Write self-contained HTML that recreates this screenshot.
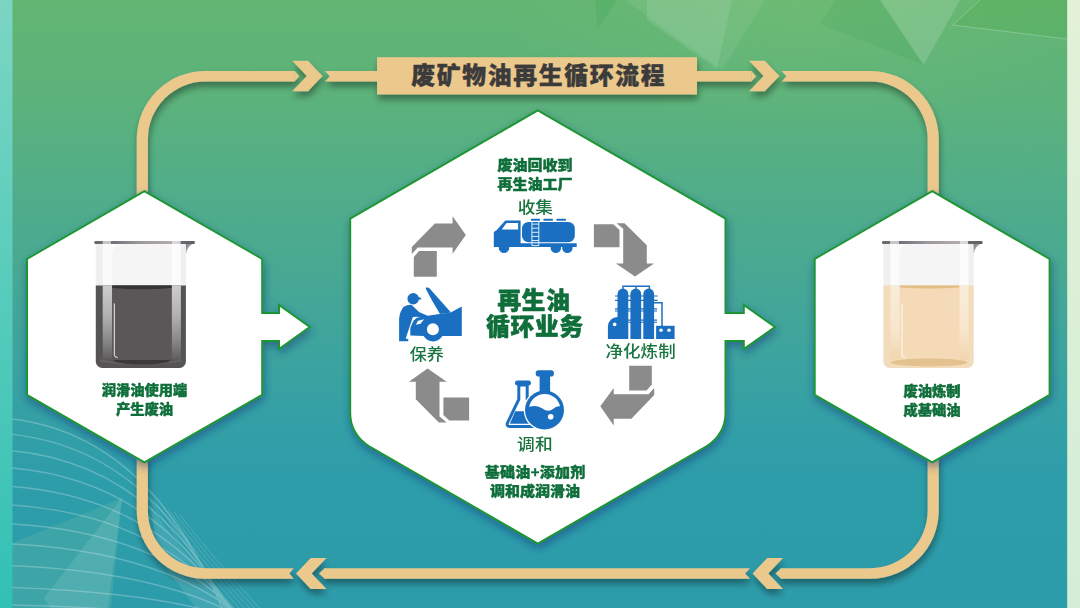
<!DOCTYPE html>
<html lang="zh-CN">
<head>
<meta charset="utf-8">
<title>废矿物油再生循环流程</title>
<style>
html,body{margin:0;padding:0;width:1080px;height:608px;overflow:hidden;background:#3fa39d}
svg{display:block;position:absolute;left:0;top:0}
text{font-family:"Liberation Sans","Noto Sans CJK SC",sans-serif}
.b{font-weight:900;fill:#0f6e3a;stroke:#0f6e3a;stroke-width:0.45px;stroke-linejoin:round}
.r{font-weight:500;fill:#1a7541}
.h{font-weight:900;fill:#0f6e3a;stroke:#0f6e3a;stroke-width:0.6px;stroke-linejoin:round;letter-spacing:0.8px}
</style>
</head>
<body>
<svg width="1080" height="608" viewBox="0 0 1080 608">
<defs>
  <linearGradient id="bg" x1="0" y1="0" x2="0" y2="1">
    <stop offset="0" stop-color="#62b572"/>
    <stop offset="0.165" stop-color="#5cb27b"/>
    <stop offset="0.296" stop-color="#52ae88"/>
    <stop offset="0.411" stop-color="#4aaa90"/>
    <stop offset="0.493" stop-color="#44a697"/>
    <stop offset="0.576" stop-color="#3da49e"/>
    <stop offset="0.69" stop-color="#34a0a6"/>
    <stop offset="0.79" stop-color="#2d9daa"/>
    <stop offset="1" stop-color="#2d9caa"/>
  </linearGradient>
  <linearGradient id="lstrip" x1="0" y1="0" x2="0" y2="1">
    <stop offset="0" stop-color="#7cd5c3"/>
    <stop offset="0.5" stop-color="#56cbbb"/>
    <stop offset="1" stop-color="#32c0b5"/>
  </linearGradient>
  <linearGradient id="rstrip" x1="0" y1="0" x2="0" y2="1">
    <stop offset="0" stop-color="#e2f1d8"/>
    <stop offset="1" stop-color="#d4eed6"/>
  </linearGradient>
  <filter id="sh" x="-20%" y="-20%" width="140%" height="150%">
    <feGaussianBlur in="SourceAlpha" stdDeviation="3.5"/>
    <feOffset dx="0.5" dy="4.5" result="o"/>
    <feComponentTransfer><feFuncA type="linear" slope="0.38"/></feComponentTransfer>
    <feMerge><feMergeNode/><feMergeNode in="SourceGraphic"/></feMerge>
  </filter>
  <filter id="shx" x="-20%" y="-20%" width="140%" height="140%">
    <feGaussianBlur in="SourceAlpha" stdDeviation="4.5" result="b"/>
    <feOffset in="b" dx="0.5" dy="4" result="o"/>
    <feFlood flood-color="#16307a" flood-opacity="0.5"/>
    <feComposite in2="o" operator="in" result="s"/>
    <feMerge><feMergeNode in="s"/><feMergeNode in="SourceGraphic"/></feMerge>
  </filter>

  <linearGradient id="rim" x1="0" y1="0" x2="1" y2="0">
    <stop offset="0" stop-color="#66666b"/>
    <stop offset="0.08" stop-color="#6e6e73"/>
    <stop offset="0.085" stop-color="#c9c9cb"/>
    <stop offset="0.165" stop-color="#c4c4c6"/>
    <stop offset="0.17" stop-color="#6f7078"/>
    <stop offset="0.45" stop-color="#9c989c"/>
    <stop offset="0.77" stop-color="#b4acae"/>
    <stop offset="0.775" stop-color="#dcdcdc"/>
    <stop offset="0.855" stop-color="#d4d4d4"/>
    <stop offset="0.86" stop-color="#6a6a6f"/>
    <stop offset="1" stop-color="#5e5e63"/>
  </linearGradient>
  <linearGradient id="bandD" x1="0" y1="0" x2="0" y2="1">
    <stop offset="0" stop-color="#cdcdcf"/>
    <stop offset="0.4" stop-color="#b2b2b4"/>
    <stop offset="0.75" stop-color="#878688"/>
    <stop offset="1" stop-color="#5f5d5e"/>
  </linearGradient>
  <linearGradient id="bandL" x1="0" y1="0" x2="0" y2="1">
    <stop offset="0" stop-color="#f9ecd9"/>
    <stop offset="0.6" stop-color="#f8e6cd"/>
    <stop offset="1" stop-color="#f1d6ae"/>
  </linearGradient>
  <linearGradient id="spout" x1="0" y1="0" x2="1" y2="1">
    <stop offset="0" stop-color="#77787d"/>
    <stop offset="0.6" stop-color="#c5c5c8"/>
    <stop offset="1" stop-color="#f2f2f2"/>
  </linearGradient>
  <g id="bkglass">
    <path d="M95.8 243.5 H185.9 V361.5 a6.5 6.5 0 0 1 -6.5 6.5 H102.3 a6.5 6.5 0 0 1 -6.5 -6.5 Z" fill="#efefef"/>
    <rect x="102.7" y="243.5" width="9.3" height="42" fill="#fbfbfb"/>
    <rect x="112" y="243.5" width="59.8" height="42" fill="#f5f5f5"/>
    <rect x="171.8" y="243.5" width="9" height="42" fill="#fcfcfc"/>
    <path d="M112 255 q0 -8 6 -11.5 h-6 Z" fill="#fdfdfd"/>
  </g>
  <g id="bkrim">
    <path d="M185.9 243.5 H194.6 q-6.5 1.2 -8.7 10.5 Z" fill="url(#spout)"/>
    <rect x="94.3" y="241" width="100.6" height="2.9" rx="1.2" fill="url(#rim)"/>
  </g>
</defs>

<!-- background -->
<rect x="0" y="0" width="1080" height="608" fill="url(#bg)"/>
<g id="deco">
  <defs>
    <radialGradient id="glow" cx="0.5" cy="0.5" r="0.5">
      <stop offset="0" stop-color="#b4e07a" stop-opacity="0.13"/>
      <stop offset="1" stop-color="#b4e07a" stop-opacity="0"/>
    </radialGradient>
  </defs>
  <ellipse cx="800" cy="10" rx="300" ry="120" fill="url(#glow)"/>
  <polygon points="595,0 617.5,0 597.5,29" fill="#2f9a4a" opacity="0.18"/>
  <polygon points="625,0 765,0 722,70" fill="#ffffff" opacity="0.07"/>
  <polygon points="647,0 732,0 717,69 647,20" fill="#ffffff" opacity="0.10"/>
  <polygon points="820,24 835,0 880,0 923.7,65" fill="#1f8a3c" opacity="0.10"/>
  <polygon points="880,0 960,0 923.7,65" fill="#ffffff" opacity="0.15"/>
  <polygon points="952.5,25 980,0 1067,0 1067,39" fill="#4aa83e" opacity="0.22"/>
  <path d="M980 0 L952.5 25 L1067 39" fill="none" stroke="#ffffff" stroke-opacity="0.30" stroke-width="0.8"/>
  <g fill="none" stroke="#ffffff" stroke-opacity="0.035" stroke-width="0.8">
    <path d="M940 80 L1067 250 M960 60 L1067 200 M990 50 L1067 150 M900 120 L1067 330 M1067 60 L920 200 M1067 110 L940 260 M1067 170 L960 300 M1067 230 L990 330"/>
  </g>
  <!-- bottom-left -->
  <polygon points="12.5,543 122,498 111,608 12.5,608" fill="#8fd0a0" opacity="0.17"/>
  <polygon points="44,598 122,498 108,608 50,608" fill="#ffffff" opacity="0.10"/>
  <polygon points="150,505 175,540 232,608 196,608 160,560" fill="#ffffff" opacity="0.10"/>
  <g fill="none" stroke="#ffffff" stroke-opacity="0.24" stroke-width="1.4">
    <path d="M12 419 Q150.0 435.0 224.0 612.0 M12 434.4 Q152.5 449.2 227.5 613.5 M12 450.7 Q155.0 464.3 231.0 615.0 M12 468 Q157.5 480.4 234.5 616.5 M12 486.5 Q160.0 497.7 238.0 618.0 M12 505 Q162.5 515.0 241.5 619.5 M12 524 Q165.0 532.8 245.0 621.0 M12 544 Q167.5 551.6 248.5 622.5 M12 565.7 Q170.0 572.1 252.0 624.0 M12 587.5 Q172.5 592.7 255.5 625.5 M12 605 Q175.0 609.0 259.0 627.0"/>
  </g>
  <g fill="none" stroke="#ffffff" stroke-opacity="0.13" stroke-width="1.1">
    <path d="M150 500 Q190 560 238 612 M156 503 Q195 560 243 612 M162 506 Q200 560 248 612 M168 509 Q205 560 253 612 M174 512 Q210 560 258 612 M180 515 Q215 560 263 612"/>
  </g>
</g>

<!-- side strips -->
<rect x="0" y="0" width="12.5" height="608" fill="url(#lstrip)"/>
<rect x="1067.2" y="0" width="13" height="608" fill="url(#rstrip)"/>

<!-- loop -->
<g id="loop" filter="url(#sh)" fill="#ebc88c" stroke="none">
  <g fill="none" stroke="#ebc88c">
    
    <path stroke-width="10.6" d="M205 76.2 H294.8"/>
    <path stroke-width="10.6" d="M333 76.2 H380"/>
    <path stroke-width="10.6" d="M695 76.2 H751.5"/>
    <path stroke-width="10.6" d="M790 76.2 H870.2"/>
    
    
    <path stroke-width="10.6" d="M870.5 573.5 H780.6"/>
    <path stroke-width="10.6" d="M742 573.5 H324"/>
    <path stroke-width="10.6" d="M286 573.5 H205"/>
    
  </g>
  <path d="M136.7 200 V139.2 A68.6 68.3 0 0 1 205.3 70.9 H206 V81.5 H205.3 A57.4 57.7 0 0 0 147.9 139.2 V200 Z"/>
  <path d="M869.5 70.9 H870.2 A68.6 68.3 0 0 1 938.8 139.2 V200 H927.6 V139.2 A57.4 57.7 0 0 0 870.2 81.5 H869.5 Z"/>
  <path d="M938.8 455 V510.5 A68.6 68.3 0 0 1 870.2 578.8 H869.5 V568.2 H870.2 A57.4 57.7 0 0 0 927.6 510.5 V455 Z"/>
  <path d="M136.7 455 V510.5 A68.6 68.3 0 0 0 205.3 578.8 H206 V568.2 H205.3 A57.4 57.7 0 0 1 147.9 510.5 V455 Z"/>
  <!-- pointed tips -->
  <polygon points="294.6,70.9 299.4,76.2 294.6,81.5"/>
  <polygon points="751.3,70.9 756.1,76.2 751.3,81.5"/>
  <polygon points="781.2,568.2 775.5,573.5 781.2,578.8"/>
  <polygon points="324.7,568.2 319,573.5 324.7,578.8"/>
  <!-- notched tails -->
  <polygon points="325,70.9 333.5,70.9 333.5,81.5 325,81.5 329.7,76.2"/>
  <polygon points="781.7,70.9 790.5,70.9 790.5,81.5 781.7,81.5 786.4,76.2"/>
  <polygon points="750.1,568.2 741.5,568.2 741.5,578.8 750.1,578.8 745.1,573.5"/>
  <polygon points="293.7,568.2 285.5,568.2 285.5,578.8 293.7,578.8 289.4,573.5"/>
  <!-- chevrons -->
  <polygon points="292.2,60.8 308,60.8 322.6,76.1 308,91.3 292.2,91.3 306.8,76.1"/>
  <polygon points="749,60.8 764.8,60.8 779.4,76.1 764.8,91.3 749,91.3 763.6,76.1"/>
  <polygon points="783,558 767.2,558 752.6,573.5 767.2,589 783,589 768.4,573.5"/>
  <polygon points="326.5,558 310.7,558 296,573.5 310.7,589 326.5,589 311.7,573.5"/>
  <rect x="377" y="57.2" width="320" height="37.3"/>
</g>
<text x="538.7" y="84.2" text-anchor="middle" font-size="23.8" font-weight="900" fill="#3b3b3b" stroke="#3b3b3b" stroke-width="0.4" letter-spacing="1.7">废矿物油再生循环流程</text>

<!-- hexagons -->
<g id="hex" filter="url(#shx)" fill="#ffffff" stroke="#1f9632" stroke-width="2" stroke-linejoin="miter">
  <polygon points="144.4,191.2 262.2,259 262.2,313.1 279,313.1 279,305 309.8,327 279,349 279,341 262.2,341 262.2,394.8 144.4,462.4 27,394.8 27,259"/>
  <path d="M537.8 110.4 L725.5 218.7 V313.1 H743.8 V305 L775 327 L743.8 349 V341 H725.5 V413.4 A38 38 0 0 1 706.5 446.25 L537.8 543.6 L369.2 446.25 A38 38 0 0 1 350.2 413.4 V218.7 Z"/>
  <polygon points="932.2,191.2 1049.6,259 1049.6,394.8 932.2,462.4 814.7,394.8 814.7,259"/>
</g>

<g id="beakers">
  <g>
    <use href="#bkglass"/>
    <path d="M95.8 285.5 H185.9 V361.5 a6.5 6.5 0 0 1 -6.5 6.5 H102.3 a6.5 6.5 0 0 1 -6.5 -6.5 Z" fill="#565354"/>
    <rect x="102.7" y="285.5" width="9.5" height="74" fill="url(#bandD)"/>
    <rect x="171.6" y="285.5" width="9.3" height="74" fill="url(#bandD)"/>
    <path d="M100 359 Q141 369 181.5 359 L181.5 362 Q141 367.5 100 362 Z" fill="#6f6e6f" opacity="0.55"/>
    <ellipse cx="141.9" cy="360.5" rx="28" ry="4" fill="#3b393a"/>
    <path d="M112.2 285.5 H171.6 V356 a4 4 0 0 1 -4 4 H116.2 a4 4 0 0 1 -4 -4 Z" fill="#5a5758"/>
    <path d="M112.2 285.5 H171.6 V288 Q142 290.5 112.2 288 Z" fill="#353334"/>
    <path d="M114.3 303.8 V354.8 q0 2.6 3 2.7" fill="none" stroke="#ffffff" stroke-width="0.9" stroke-linecap="round"/>
    <use href="#bkrim"/>
  </g>
  <g transform="translate(787.7,0)">
    <use href="#bkglass"/>
    <path d="M95.8 285.5 H185.9 V361.5 a6.5 6.5 0 0 1 -6.5 6.5 H102.3 a6.5 6.5 0 0 1 -6.5 -6.5 Z" fill="#f3dcbb"/>
    <rect x="102.7" y="285.5" width="9.5" height="74" fill="url(#bandL)"/>
    <rect x="171.6" y="285.5" width="9.3" height="74" fill="url(#bandL)"/>
    <path d="M112.2 285.5 H171.6 V356 a4 4 0 0 1 -4 4 H116.2 a4 4 0 0 1 -4 -4 Z" fill="#f4dab6"/>
    <ellipse cx="141.5" cy="362.4" rx="38.5" ry="3.9" fill="#e4c28f"/>
    <path d="M112.2 285.5 H171.6 V287.6 Q142 289.6 112.2 287.6 Z" fill="#e3bd85"/>
    <path d="M114.3 303.8 V354.8 q0 2.6 3 2.7" fill="none" stroke="#ffffff" stroke-width="0.9" stroke-linecap="round"/>
    <use href="#bkrim"/>
  </g>
</g>
<g id="icons">
  <!-- grey cycle arrows -->
  <g fill="#8b8b8b">
    <polygon points="411.8,253.9 411.8,247.1 434.9,223.4 452.6,223.4 452.6,216.2 465.8,235 452.6,253.7 452.6,247.4 417.8,247.4"/>
    <polygon points="413.8,257 419.1,251.1 436.8,251.1 436.8,276.7 413.8,276.7"/>
    <polygon points="593.9,224.2 613.3,224.2 619.5,230.1 619.5,247.2 593.9,247.2"/>
    <polygon points="616.6,223.2 624.5,223.2 646.8,245.3 646.8,263.4 654.1,263.4 635,276.6 615.9,263.4 623.2,263.4 623.2,228.8"/>
    <polygon points="629.2,365.8 651.8,365.8 651.8,384.6 646.6,390.5 629.2,390.5"/>
    <polygon points="654.2,387.9 654.2,395.1 631.4,418.8 613.7,418.8 613.7,425.4 600.3,406.3 613.7,387.9 613.7,394.2 648.6,394.2"/>
    <polygon points="427.6,368.6 446.7,381.7 439.5,381.7 439.5,416.6 446.7,422.5 438.8,422.5 415.8,399.2 415.8,381.7 408.9,381.7"/>
    <polygon points="443.4,397.5 469.1,397.5 469.1,420.5 449.3,420.5 443.4,415"/>
  </g>

  <!-- tanker truck -->
  <g fill="#1b6fc0">
    <path d="M498.8 245.5 h10.4 v2.4 a5.2 5.2 0 0 1 -10.4 0 Z"/>
    <path d="M550.6 245.5 h10.4 v2.4 a5.2 5.2 0 0 1 -10.4 0 Z"/>
    <path d="M562.2 245.5 h10.4 v2.4 a5.2 5.2 0 0 1 -10.4 0 Z"/>
    <path d="M493.8 247 V233 q0 -1.2 1 -1.8 L496.3 230.6 L504.6 221.2 q0.6 -0.6 1.4 -0.6 H520.6 V243.3 H576.7 V247 Z"/>
    <polygon points="506.5,223 518.1,223 518.1,229.6 501.7,229.6" fill="#ffffff"/>
    <rect x="522" y="221.9" width="52.8" height="20.3" rx="6.5"/>
    <rect x="530.8" y="218.8" width="9.3" height="2" rx="0.8"/>
    <rect x="543.3" y="218.8" width="9.7" height="2" rx="0.8"/>
    <rect x="556.3" y="218.8" width="9.7" height="2" rx="0.8"/>
    <g fill="none" stroke="#dfeaf7" stroke-width="1">
      <path d="M531.9 222 V245.6 H538.8 V222"/>
      <path d="M531.9 224.1 H538.8 M531.9 228.2 H538.8 M531.9 232.3 H538.8 M531.9 236.4 H538.8 M531.9 240.5 H538.8"/>
    </g>
  </g>

  <!-- car maintenance -->
  <g fill="#1b6fc0">
    <circle cx="413.2" cy="298.8" r="5.75"/>
    <path d="M417 296.8 L420.8 297.8 q0.9 0.3 0.5 1 q-0.3 0.7 -1.2 0.7 L417.5 299.8 Z"/>
    <path d="M403.7 306.7 Q407.5 304.6 411.8 304.9 L419 312.1 L427.1 315.4 L425.6 317.4 L415.9 316.8 L412.9 316.9 L405.7 338.6 L408.3 339.3 V341.2 H399.1 V318.7 Q399.6 311.6 403.7 306.7 Z"/>
    <path d="M425.6 288.4 L426.6 287.3 L429.2 288 L451 312.4 L440 314 Q432 301 425.6 288.4 Z"/>
    <path d="M410.3 335.6 V327.9 L413.4 320.8 L416.9 317.7 L427.7 315.7 L443 313.6 L450.6 312.6 L461.8 306.5 V336.1 H442.4 A11 11 0 0 1 423.6 336.1 Z"/>
    <circle cx="432.9" cy="329.2" r="6" fill="#ffffff"/>
    <polygon points="415.9,324.8 418,320.8 424.1,319.2 420.5,323.8" fill="#ffffff"/>
  </g>

  <!-- refinery -->
  <g fill="#1b6fc0">
    <path d="M617.5 339 V294 a5.4 5.4 0 0 1 10.8 0 V339 Z"/>
    <path d="M630.4 339 V294 a5.4 5.4 0 0 1 10.8 0 V339 Z"/>
    <path d="M643.3 339 V294 a5.4 5.4 0 0 1 10.8 0 V339 Z"/>
    <path d="M607.9 339 V326.5 a9.6 9.6 0 0 1 9.6 -9.6 H618 V339 Z"/>
    <rect x="656.1" y="325.8" width="18.5" height="13.2"/>
    <g fill="none" stroke="#1b6fc0">
      <path stroke-width="1.5" d="M623 290.5 V286.2 H649.4 V290.5 M636.1 286.2 V290.5"/>
      <path stroke-width="1.5" d="M654 302.7 H662 V326.5"/>
      <path stroke-width="1.15" d="M615 296 H657.7 M615 300.3 H657.7 M615 308.9 H657 M615 311 H657 M628 320.1 H657 M628 322.2 H657"/>
    </g>
    <circle cx="614.7" cy="324.4" r="1.8" fill="#ffffff"/>
    <circle cx="661" cy="330.3" r="1.8" fill="#ffffff"/>
    <circle cx="669" cy="330.3" r="1.8" fill="#ffffff"/>
  </g>

  <!-- flasks -->
  <g>
    <path d="M518.8 385 V399.3 L507.6 422.6 q-1.6 3.9 2.4 3.9 H540 V399.3 H527.2 V385 Z" fill="#ffffff" stroke="#1b6fc0" stroke-width="3" stroke-linejoin="round"/>
    <rect x="515" y="380.6" width="15.9" height="5" rx="2.3" fill="#1b6fc0"/>
    <polygon points="515.2,411.3 526.5,411.3 531.5,423.8 509.8,423.8" fill="#1b6fc0"/>
    <circle cx="544.5" cy="410" r="20.8" fill="#ffffff"/>
    <rect x="538.3" y="372" width="13.2" height="24" fill="#ffffff"/>
    <circle cx="544.5" cy="410" r="19.5" fill="#1b6fc0"/>
    <rect x="539.6" y="374" width="10.5" height="20" fill="#1b6fc0"/>
    <rect x="535.7" y="370.3" width="18.2" height="6.2" rx="2.8" fill="#1b6fc0"/>
    <path d="M529.2 407 A15.7 15.7 0 0 1 560 406.3 Q556.5 405.5 553 409 Q548.5 413 542 408.2 Q535.5 404.3 529.2 407 Z" fill="#ffffff"/>
    <circle cx="550.7" cy="416.8" r="2.8" fill="#ffffff"/>
  </g>
</g>

<!-- texts -->
<g id="texts" style="opacity:0.999">
  <text class="b" transform="translate(144.5,395.05) scale(1,0.92)" text-anchor="middle" font-size="14.3">润滑油使用端</text>
  <text class="b" transform="translate(144.5,414.05) scale(1,0.92)" text-anchor="middle" font-size="14.3">产生废油</text>
  <text class="b" transform="translate(932.0,395.55) scale(1,0.92)" text-anchor="middle" font-size="14.3">废油炼制</text>
  <text class="b" transform="translate(932.0,414.55) scale(1,0.92)" text-anchor="middle" font-size="14.3">成基础油</text>
  <text class="b" transform="translate(535.0,169.55) scale(1,0.92)" text-anchor="middle" font-size="15">废油回收到</text>
  <text class="b" transform="translate(535.0,188.55) scale(1,0.92)" text-anchor="middle" font-size="15">再生油工厂</text>
  <text class="r" transform="translate(535.3,212.7) scale(1.05,0.94)" text-anchor="middle" font-size="16.8">收集</text>
  <text class="r" transform="translate(426.8,359.7) scale(1.02,0.94)" text-anchor="middle" font-size="16.8">保养</text>
  <text class="r" transform="translate(640.6,357.2) scale(1.045,0.94)" text-anchor="middle" font-size="16.8">净化炼制</text>
  <text class="r" transform="translate(534.9,449.6) scale(1.06,0.94)" text-anchor="middle" font-size="16.8">调和</text>
  <text class="h" x="534" y="308.5" text-anchor="middle" font-size="23.6">再生油</text>
  <text class="h" x="535" y="335" text-anchor="middle" font-size="23.6">循环业务</text>
  <text class="b" transform="translate(535.2,476.55) scale(1,0.92)" text-anchor="middle" font-size="15" letter-spacing="0.3">基础油+添加剂</text>
  <text class="b" transform="translate(535.0,495.55) scale(1,0.92)" text-anchor="middle" font-size="15">调和成润滑油</text>
</g>
</svg>
</body>
</html>
